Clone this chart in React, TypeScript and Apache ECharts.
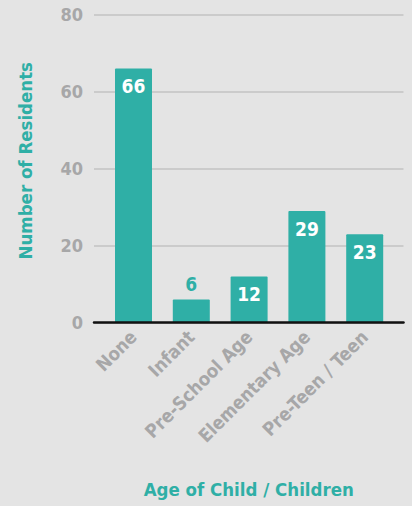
import React, { useEffect, useRef } from "react";
import * as echarts from "echarts";

const categories = ["None", "Infant", "Pre-School Age", "Elementary Age", "Pre-Teen / Teen"];
const residents = [66, 6, 12, 29, 23];
const yTicks = { min: 0, max: 80, interval: 20 };
const yName = "Number of Residents";
const xName = "Age of Child / Children";

const FONT = "'DejaVu Sans Condensed', 'Liberation Sans Narrow', sans-serif";
const TEAL = "#2fafa6";
const GRAY = "#a7a7a8";

export default function App() {
  const ref = useRef<HTMLDivElement>(null);
  useEffect(() => {
    if (!ref.current) return;
    const chart = echarts.init(ref.current, null, { renderer: "svg" });
    chart.setOption({
      animation: false,
      backgroundColor: "#e4e4e4",
      grid: [
        { left: 94, right: 8.5, top: 14.7, bottom: 183.3, outerBoundsMode: "none", containLabel: false },
        { left: 104.6, right: 18.4, top: 14.7, bottom: 183.3, outerBoundsMode: "none", containLabel: false },
      ],
      xAxis: [
        {
          type: "value",
          gridIndex: 0,
          min: 0,
          max: 1,
          z: 5,
          axisLine: { show: true, onZero: false, lineStyle: { color: "#111", width: 2.5 } },
          axisTick: { show: false },
          axisLabel: { show: false },
          splitLine: { show: false },
          name: xName,
          nameLocation: "middle",
          nameGap: 157,
          nameTextStyle: { color: TEAL, fontFamily: FONT, fontWeight: "bold", fontSize: 18.5 },
        },
        {
          type: "category",
          gridIndex: 1,
          data: categories,
          axisLine: { show: false },
          axisTick: { show: false },
          axisLabel: {
            rotate: 45,
            margin: 11,
            color: GRAY,
            fontFamily: FONT,
            fontWeight: "bold",
            fontSize: 18.5,
          },
        },
      ],
      yAxis: [
        {
          type: "value",
          gridIndex: 0,
          min: yTicks.min,
          max: yTicks.max,
          interval: yTicks.interval,
          axisLine: { show: false },
          axisTick: { show: false },
          axisLabel: { margin: 11, color: GRAY, fontFamily: FONT, fontWeight: "bold", fontSize: 18 },
          splitLine: { lineStyle: { color: "#cbcbcb", width: 2 } },
          name: yName,
          nameLocation: "middle",
          nameGap: 59,
          nameTextStyle: {
            color: TEAL,
            fontFamily: FONT,
            fontWeight: "bold",
            fontSize: 18.5,
            padding: [0, 0, 0, 16],
          },
        },
        {
          type: "value",
          gridIndex: 1,
          min: yTicks.min,
          max: yTicks.max,
          interval: yTicks.interval,
          show: false,
          splitLine: { show: false },
        },
      ],
      series: [
        {
          type: "bar",
          xAxisIndex: 1,
          yAxisIndex: 1,
          barWidth: 37,
          itemStyle: { color: TEAL, borderRadius: [1, 1, 0, 0] },
          data: residents.map((v) =>
            v < 10
              ? {
                  value: v,
                  label: { position: "top", distance: 6, color: TEAL },
                }
              : { value: v }
          ),
          label: {
            show: true,
            position: "insideTop",
            distance: 8,
            color: "#ffffff",
            fontFamily: FONT,
            fontWeight: "bold",
            fontSize: 19,
          },
        },
      ],
    });
    return () => chart.dispose();
  }, []);
  return (
    <div
      ref={ref}
      style={{ position: "fixed", left: 0, top: 0, width: 412, height: 506 }}
    />
  );
}
